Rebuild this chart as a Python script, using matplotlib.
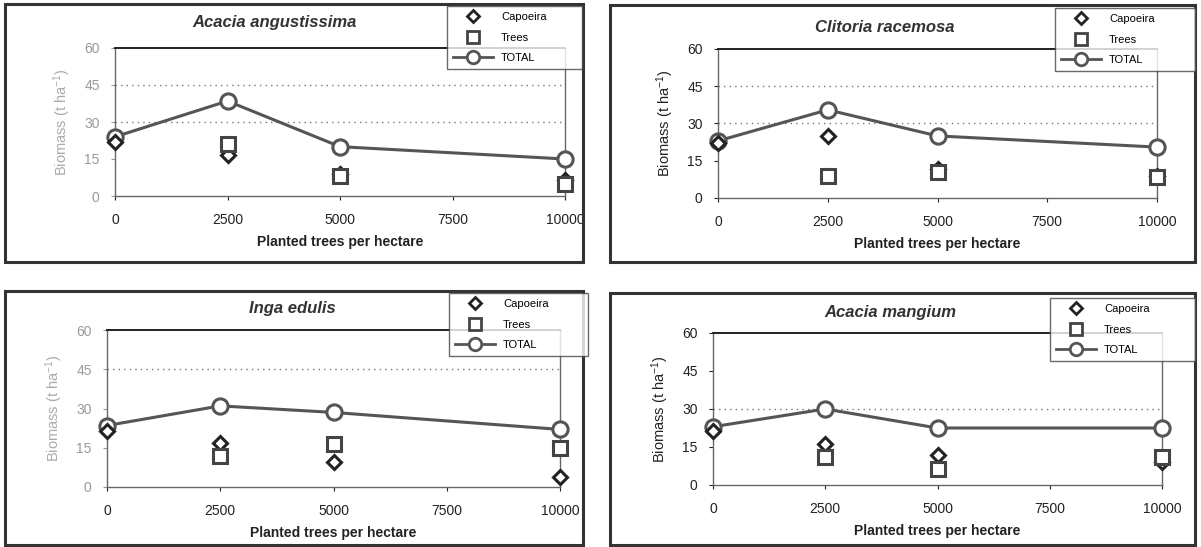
import matplotlib
matplotlib.use("Agg")
import matplotlib.pyplot as plt
from matplotlib.lines import Line2D
from matplotlib.patches import Rectangle
import numpy as np

plt.rcParams['font.family'] = ['Liberation Sans', 'DejaVu Sans']
plt.rcParams['mathtext.default'] = 'regular'

W, H = 1201, 547
density = [0, 2500, 5000, 10000]
xticks = [0, 2500, 5000, 7500, 10000]
yticks = [0, 15, 30, 45, 60]

titles = ["Acacia angustissima", "Clitoria racemosa", "Inga edulis", "Acacia mangium"]

capoeira_aa = [22, 16.5, 9, 6.5]
trees_aa = [np.nan, 21, 8, 5]
total_aa = [24, 38.5, 20, 15]

capoeira_cr = [22, 25, 11.5, 9]
trees_cr = [np.nan, 9, 10.5, 8.5]
total_cr = [23, 35.5, 25, 20.5]

capoeira_ie = [21.5, 17, 9.5, 4]
trees_ie = [np.nan, 12, 16.5, 15]
total_ie = [23.5, 31, 28.5, 22]

capoeira_am = [21.5, 16, 12, 9]
trees_am = [np.nan, 11, 6.5, 11]
total_am = [23, 30, 22.5, 22.5]

series = [
    (capoeira_aa, trees_aa, total_aa),
    (capoeira_cr, trees_cr, total_cr),
    (capoeira_ie, trees_ie, total_ie),
    (capoeira_am, trees_am, total_am),
]

axes_px = [(115, 565, 48, 196), (718, 1157, 49, 198), (107, 560, 330, 487), (713, 1162, 333, 485)]
frame_px = [(5, 583, 4, 262), (610, 1195, 5, 262), (5, 583, 291, 545), (610, 1195, 293, 545)]
title_xy = [(275, 22), (885, 28), (292, 308), (890, 313)]
legend_px = [(447, 582, 6, 72), (1055, 1195, 8, 78), (449, 588, 293, 358), (1050, 1195, 298, 364)]
grid_levels = [[30, 45], [30, 45], [45], [30]]
faded = [True, False, True, False]

fig = plt.figure(figsize=(W / 100, H / 100), dpi=100)

def fx(x):
    return x / W

def fy(y):
    return 1 - y / H

mid = '#555555'

for i in range(4):
    l, r, t, b = frame_px[i]
    fig.patches.append(Rectangle((fx(l), fy(b)), fx(r) - fx(l), fy(t) - fy(b),
                                 transform=fig.transFigure, fill=False,
                                 edgecolor='#333333', linewidth=2.2, zorder=0))
    al, ar, at, ab = axes_px[i]
    ax = fig.add_axes([fx(al), fy(ab), fx(ar) - fx(al), fy(at) - fy(ab)])
    ax.set_xlim(0, 10000)
    ax.set_ylim(0, 60)
    cap, trs, tot = series[i]
    for g in grid_levels[i]:
        ax.axhline(g, color='#777777', linestyle=(0, (1, 3)), linewidth=1.0, zorder=1)
    ax.plot(density, tot, color=mid, linewidth=2.2, marker='o', markersize=11,
            markerfacecolor='white', markeredgecolor=mid, markeredgewidth=2.2, zorder=3, clip_on=False)
    ax.plot(density, cap, linestyle='none', marker='D', markersize=7,
            markerfacecolor='white', markeredgecolor='#222222', markeredgewidth=2.2, zorder=4, clip_on=False)
    ax.plot(density, trs, linestyle='none', marker='s', markersize=10,
            markerfacecolor='white', markeredgecolor='#444444', markeredgewidth=2.2, zorder=5, clip_on=False)
    ax.set_xticks(xticks)
    ax.set_yticks(yticks)
    ax.set_xticklabels([str(v) for v in xticks])
    ax.set_yticklabels([str(v) for v in yticks])
    tick_color = '#999999' if faded[i] else '#222222'
    ax.tick_params(axis='y', labelsize=10, colors=tick_color, labelcolor=tick_color,
                   length=3, direction='out', pad=8)
    ax.tick_params(axis='x', labelsize=10, colors='#222222', length=3, direction='out', pad=9)
    for s in ax.spines.values():
        s.set_color('#666666')
        s.set_linewidth(1.0)
    ax.spines['top'].set_color('#222222')
    ax.spines['top'].set_linewidth(1.4)
    ax.set_xlabel('Planted trees per hectare', fontsize=10, fontweight='bold', color='#222222', labelpad=6)
    ax.set_ylabel('Biomass (t ha$^{-1}$)', fontsize=10.5,
                  color=('#aaaaaa' if faded[i] else '#222222'), labelpad=8)
    ax.patch.set_alpha(0)
    tx, ty = title_xy[i]
    fig.text(fx(tx), fy(ty), titles[i], fontsize=12, fontstyle='italic', fontweight='bold',
             ha='center', va='center', color='#333333')
    ll, lr, lt, lb = legend_px[i]
    handles = [
        Line2D([], [], linestyle='none', marker='D', markersize=6, markerfacecolor='white',
               markeredgecolor='#222222', markeredgewidth=2.0),
        Line2D([], [], linestyle='none', marker='s', markersize=9, markerfacecolor='white',
               markeredgecolor='#444444', markeredgewidth=2.0),
        Line2D([], [], color=mid, linewidth=2.0, marker='o', markersize=9, markerfacecolor='white',
               markeredgecolor=mid, markeredgewidth=2.0),
    ]
    leg = fig.legend(handles, ['Capoeira', 'Trees', 'TOTAL'], loc='upper left',
                     bbox_to_anchor=(fx(ll), fy(lb), fx(lr) - fx(ll), fy(lt) - fy(lb)),
                     bbox_transform=fig.transFigure, mode='expand', fontsize=8,
                     frameon=True, fancybox=False, borderaxespad=0, handlelength=3.6,
                     labelspacing=0.95, borderpad=0.55, handletextpad=0.7)
    leg.get_frame().set_edgecolor('#444444')
    leg.get_frame().set_linewidth(1.0)

fig.savefig('out.png', dpi=100)
